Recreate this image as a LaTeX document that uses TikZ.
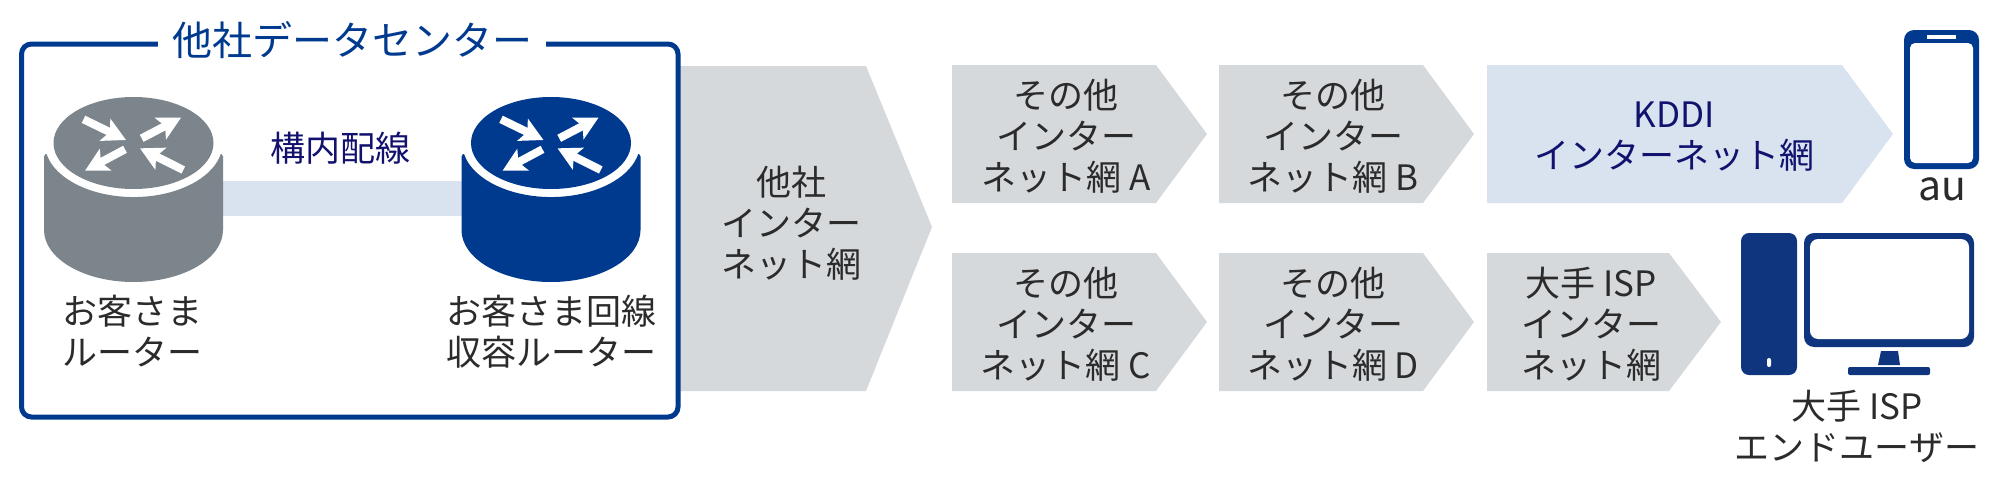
\documentclass[tikz,border=0pt]{standalone}
\usepackage{fontspec}
\setmainfont{Noto Sans CJK JP}
\usetikzlibrary{arrows.meta}
\definecolor{framecol}{HTML}{003A8F}
\definecolor{routergray}{HTML}{7D858C}
\definecolor{netgray}{HTML}{D6D9DC}
\definecolor{netblue}{HTML}{D9E2EF}
\definecolor{navytext}{HTML}{12126E}
\definecolor{darktext}{HTML}{2B2B2B}
\definecolor{pcblue}{HTML}{10357F}
\tikzset{
    label/.style={align=center, inner sep=0pt, text=darktext, font=\fontsize{17.5}{20.5}\selectfont},
    navylabel/.style={label, text=navytext},
    flow/.style={white, line width=4pt, -{Stealth[length=11.5pt,width=12pt,inset=2.5pt]}},
    router/.pic={
        \fill[#1] (-89.5,-31.5) -- (-89.5,42) -- (-88,44.5) -- (-87,44.5)
            arc[start angle=191.7, end angle=348.3, x radius=89, y radius=54]
            -- (88,44.5) -- (89.5,42) -- (89.5,-31.5)
            arc[start angle=0, end angle=-180, x radius=89.5, y radius=52] -- cycle;
        \fill[#1] (0,55.5) ellipse[x radius=80, y radius=46];
        \draw[flow] (-50,79.2) -- (-7.5,58.5);
        \draw[flow] (8.2,60.2) -- (47.5,80.8);
        \draw[flow] (-8.5,49.2) -- (-48.5,27.8);
        \draw[flow] (49.8,28.5) -- (6.5,50.2);
    }
}
\begin{document}
\begin{tikzpicture}[x=0.5pt, y=0.5pt]
            \useasboundingbox (0,0) rectangle (2000,-477);

            \fill[netgray] (678,-66) -- (866,-66) -- (932,-227) -- (866,-391) -- (678,-391) -- cycle;
            \draw[framecol, line width=2.5pt, rounded corners=5pt, fill=white] (21.5,-44) rectangle (678,-417);
            \node[font=\fontsize{20}{23}\selectfont, text=framecol, fill=white, inner xsep=7pt, inner ysep=0pt] (center) at (352,-40) {他社データセンター};

            \coordinate (custport) at (223,-198.5);
            \coordinate (edgeport) at (461.5,-198.5);
            \draw[netblue, line width=17.5pt] (custport) -- (edgeport);
            \pic at (133.5,-198.5) {router={routergray}};
            \pic at (551,-198.5) {router={framecol}};
            \node[navylabel] (wiring) at (340,-148) {構内配線};
            \node[label] (custlabel) at (132,-331) {お客さま\\ルーター};
            \node[label] (edgelabel) at (551,-332) {お客さま回線\\収容ルーター};

            \foreach \left/\shoulder/\tip/\top/\bottom/\fillcol in {
                952/1156/1207/65/203/netgray, 1219/1423/1474/65/203/netgray, 1487/1842/1893/65/203/netblue,
                952/1156/1207/253/391/netgray, 1219/1423/1474/253/391/netgray, 1487/1669/1721/253/391/netgray}
                \fill[\fillcol] (\left,-\top) -- (\shoulder,-\top) -- (\tip,-\top/2-\bottom/2) -- (\shoulder,-\bottom) -- (\left,-\bottom) -- cycle;

            \node[label] (own) at (791,-223) {他社\\インター\\ネット網};
            \node[label] (neta) at (1066,-136) {その他\\インター\\ネット網 A};
            \node[label] (netb) at (1333,-136) {その他\\インター\\ネット網 B};
            \node[navylabel] (kddi) at (1674,-137) {KDDI\\インターネット網};
            \node[label] (netc) at (1066,-324) {その他\\インター\\ネット網 C};
            \node[label] (netd) at (1333,-324) {その他\\インター\\ネット網 D};
            \node[label] (isp) at (1591,-324) {大手 ISP\\インター\\ネット網};

            \fill[framecol, rounded corners=5pt] (1904,-30) rectangle (1979,-169);
            \fill[white, rounded corners=2.5pt] (1910,-43) rectangle (1973,-163);
            \fill[white] (1927,-35) rectangle (1956,-39);
            \node[label, font=\fontsize{20.5}{24}\selectfont] (au) at (1942,-189) {au};

            \fill[pcblue, rounded corners=4pt] (1741,-233) rectangle (1797,-375);
            \fill[white, rounded corners=1pt] (1767,-358) rectangle (1771,-367);
            \fill[pcblue, rounded corners=5pt] (1804,-233) rectangle (1974,-347);
            \fill[white, rounded corners=4pt] (1810,-239) rectangle (1969,-339);
            \fill[pcblue] (1881,-351) -- (1898,-351) -- (1900,-365) -- (1878,-365) -- cycle;
            \fill[pcblue, rounded corners=1pt] (1848,-367) rectangle (1930,-375);
            \node[label] (ispuser) at (1857,-426) {大手 ISP\\エンドユーザー};
        \end{tikzpicture}
\end{document}
